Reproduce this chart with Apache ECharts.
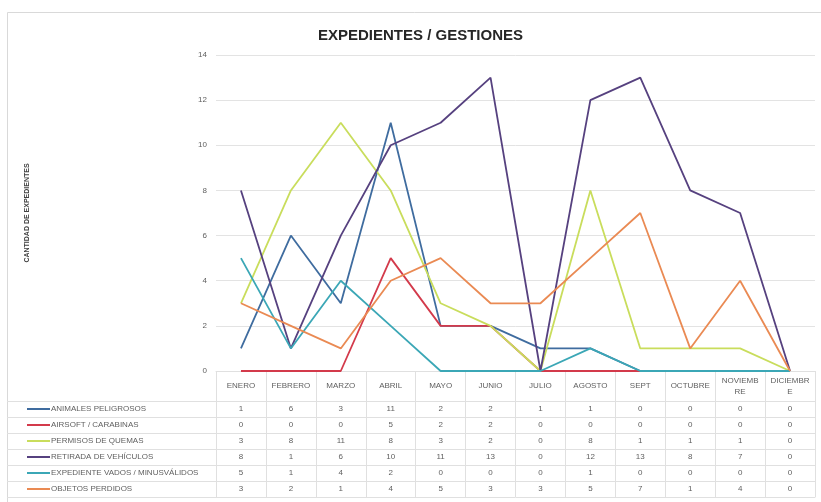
<!DOCTYPE html>
<html>
<head>
<meta charset="utf-8">
<script src="https://cdn.jsdelivr.net/npm/echarts@6/dist/echarts.min.js"></script>
<style>
  html, body { margin: 0; padding: 0; background: #fff; }
  #chart { width: 821px; height: 502px; }
</style>
</head>
<body>
<div id="chart"></div>
<script>
// Month labels along the category axis (the long ones wrap like in the worksheet)
var months = ['ENERO', 'FEBRERO', 'MARZO', 'ABRIL', 'MAYO', 'JUNIO', 'JULIO',
              'AGOSTO', 'SEPT', 'OCTUBRE', 'NOVIEMB\nRE', 'DICIEMBR\nE'];

// Series names
var seriesNames = ['ANIMALES PELIGROSOS', 'AIRSOFT / CARABINAS', 'PERMISOS DE QUEMAS',
                   'RETIRADA DE VEHÍCULOS', 'EXPEDIENTE VADOS / MINUSVÁLIDOS', 'OBJETOS PERDIDOS'];

// Monthly counts per type of procedure
var animalesPeligrosos = [1, 6, 3, 11, 2, 2, 1, 1, 0, 0, 0, 0];
var airsoftCarabinas   = [0, 0, 0, 5, 2, 2, 0, 0, 0, 0, 0, 0];
var permisosQuemas     = [3, 8, 11, 8, 3, 2, 0, 8, 1, 1, 1, 0];
var retiradaVehiculos  = [8, 1, 6, 10, 11, 13, 0, 12, 13, 8, 7, 0];
var vadosMinusvalidos  = [5, 1, 4, 2, 0, 0, 0, 1, 0, 0, 0, 0];
var objetosPerdidos    = [3, 2, 1, 4, 5, 3, 3, 5, 7, 1, 4, 0];

// Y axis ticks
var yTicks = [0, 2, 4, 6, 8, 10, 12, 14];

var seriesData = [animalesPeligrosos, airsoftCarabinas, permisosQuemas,
                  retiradaVehiculos, vadosMinusvalidos, objetosPerdidos];
var seriesColors = ['#3f6c9f', '#d33a4b', '#c9dd5c', '#56417f', '#3ba7b6', '#ea8a53'];

// Table geometry (plot bottom, header row and data rows)
var plotTop = 55, plotBottom = 371, plotLeft = 216, plotRight = 815;
var headerH = 30, rowH = 16;
var gridColor = '#e0e0e0';
var textColor = '#5f5f5f';
var font = 'Liberation Sans, Arial, sans-serif';

var chart = echarts.init(document.getElementById('chart'), null, { renderer: 'canvas' });

var xAxes = [{
  type: 'category',
  data: months,
  boundaryGap: true,
  axisLine: { show: true, lineStyle: { color: gridColor, width: 1 } },
  axisTick: { show: true, interval: 0, length: headerH, lineStyle: { color: gridColor } },
  axisLabel: {
    interval: 0, margin: headerH / 2, verticalAlign: 'middle',
    fontSize: 8, lineHeight: 11, color: textColor, fontFamily: font
  },
  splitLine: { show: false }
}];

// One extra axis per table row: its labels are that series' values
seriesData.forEach(function (vals, k) {
  xAxes.push({
    type: 'category',
    data: months,
    position: 'bottom',
    offset: headerH + rowH * k,
    axisLine: { show: true, lineStyle: { color: gridColor, width: 1 } },
    axisTick: { show: true, interval: 0, length: rowH, lineStyle: { color: gridColor } },
    axisLabel: {
      interval: 0, margin: rowH / 2, verticalAlign: 'middle',
      fontSize: 8, color: textColor, fontFamily: font,
      formatter: function (v, i) { return String(vals[i]); }
    },
    splitLine: { show: false }
  });
});
// Bottom border of the table
xAxes.push({
  type: 'category',
  data: months,
  position: 'bottom',
  offset: headerH + rowH * seriesData.length,
  axisLine: { show: true, lineStyle: { color: gridColor, width: 1 } },
  axisTick: { show: false },
  axisLabel: { show: false }
});

// Row borders that continue under the legend column, plus the outer frame
var graphics = [{
  type: 'rect',
  shape: { x: 7.5, y: 12.5, width: 830, height: 520 },
  style: { fill: 'none', stroke: '#d9d9d9', lineWidth: 1 },
  silent: true
}];
for (var r = 0; r <= seriesData.length; r++) {
  var yy = plotBottom + headerH + rowH * r + 0.5;
  graphics.push({
    type: 'line',
    shape: { x1: 7, y1: yy, x2: plotLeft, y2: yy },
    style: { stroke: gridColor, lineWidth: 1 },
    silent: true
  });
}

var option = {
  backgroundColor: '#ffffff',
  animation: false,
  title: {
    text: 'EXPEDIENTES / GESTIONES',
    left: 313,
    top: 23,
    textStyle: { fontSize: 15, fontWeight: 'bold', color: '#262626', fontFamily: font }
  },
  legend: {
    orient: 'vertical',
    left: 27,
    top: plotBottom + headerH,
    padding: 0,
    itemGap: 0,
    itemWidth: 23,
    itemHeight: 2,
    icon: 'rect',
    data: seriesNames,
    textStyle: { fontSize: 8, lineHeight: rowH, color: textColor, fontFamily: font, padding: [0, 0, 0, -4] }
  },
  grid: {
    left: plotLeft, right: 821 - plotRight, top: plotTop, bottom: 502 - plotBottom,
    containLabel: false
  },
  xAxis: xAxes,
  yAxis: {
    type: 'value',
    min: yTicks[0],
    max: yTicks[yTicks.length - 1],
    interval: yTicks[1] - yTicks[0],
    name: 'CANTIDAD DE EXPEDIENTES',
    nameLocation: 'middle',
    nameRotate: 90,
    nameGap: 185,
    nameTextStyle: { fontSize: 7, fontWeight: 'bold', color: '#404040', fontFamily: font },
    axisLine: { show: false },
    axisTick: { show: false },
    axisLabel: { fontSize: 8, color: textColor, margin: 9, fontFamily: font },
    splitLine: { show: true, lineStyle: { color: '#e3e3e3', width: 1 } }
  },
  series: seriesNames.map(function (name, k) {
    return {
      name: name,
      type: 'line',
      data: seriesData[k],
      xAxisIndex: 0,
      showSymbol: false,
      symbol: 'none',
      color: seriesColors[k],
      lineStyle: { width: 1.8, color: seriesColors[k] },
      z: 2 + k
    };
  }),
  graphic: graphics
};

chart.setOption(option);
</script>
</body>
</html>
